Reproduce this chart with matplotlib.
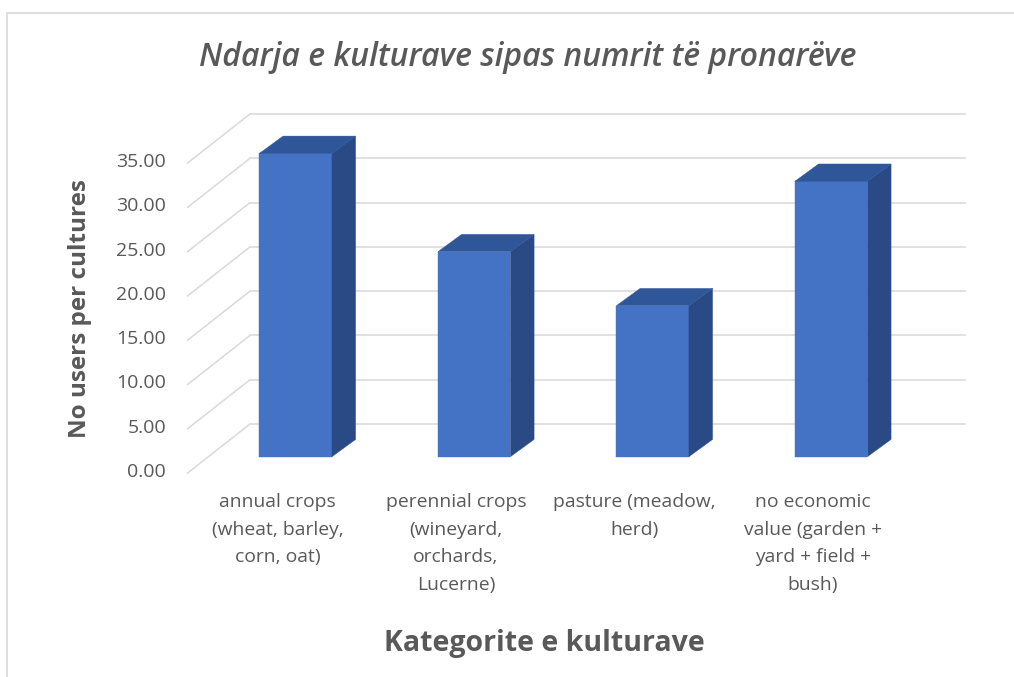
import numpy as np
import matplotlib
matplotlib.use("Agg")
import matplotlib.pyplot as plt
from matplotlib.patches import Polygon, Rectangle

plt.rcParams['font.family'] = ['Open Sans', 'DejaVu Sans']

# data
categories = ["annual crops\n(wheat, barley,\ncorn, oat)",
              "perennial crops\n(wineyard,\norchards,\nLucerne)",
              "pasture (meadow,\nherd)",
              "no economic\nvalue (garden +\nyard + field +\nbush)"]
values = [34.25, 23.15, 17.05, 31.1]
yticks = [0, 5, 10, 15, 20, 25, 30, 35]
ytick_labels = ["%.2f" % t for t in yticks]

title = "Ndarja e kulturave sipas numrit të pronarëve"
xlabel = "Kategorite e kulturave"
ylabel = "No users per cultures"

# oblique "3D" look: depth vector in data units
DX, DY = 0.353, 5.19
front = 0.29      # where the bar front sits in the depth
thick = 0.375     # bar depth
width = 0.406
floor_l, floor_r = -0.507, 3.499

grid_c = "#d9d9d9"
txt_c = "#595959"
c_front, c_top, c_side = "#4472C4", "#30569A", "#2A4A85"

W, H = 1014, 677
fig = plt.figure(figsize=(W / 100, H / 100), dpi=100)
ax = fig.add_axes([180 / W, (H - 485) / H, 795 / W, 385 / H])
ax.set_xlim(-0.546, 3.908)
ax.set_ylim(-1.694, 41.775)

# walls: left diagonals + back horizontal lines
for t in yticks:
    ax.plot([floor_l, floor_l + DX], [t - 0.4, t + DY], color=grid_c, lw=1.1, zorder=1,
            solid_capstyle='butt')
    ax.plot([floor_l + DX, floor_r + DX], [t + DY, t + DY], color=grid_c, lw=1.1, zorder=1)

x = np.arange(len(values))
xf = x + front * DX
yb = front * DY
ax.bar(xf, values, width=width, bottom=yb, color=c_front, edgecolor=c_front, lw=0.3, zorder=3)

for xi, v in zip(xf, values):
    l, r = xi - width / 2, xi + width / 2
    top = yb + v
    ddx, ddy = thick * DX, thick * DY
    side = Polygon([(r, yb), (r + ddx, yb + ddy), (r + ddx, top + ddy), (r, top)],
                   closed=True, fc=c_side, ec=c_side, lw=0.3, zorder=3)
    lid = Polygon([(l, top), (l + ddx, top + ddy), (r + ddx, top + ddy), (r, top)],
                  closed=True, fc=c_top, ec=c_top, lw=0.3, zorder=3)
    ax.add_patch(side)
    ax.add_patch(lid)

for s in ax.spines.values():
    s.set_visible(False)

ax.set_yticks(yticks)
ax.set_yticklabels(ytick_labels)
ax.set_xticks(x)
ax.set_xticklabels(categories, linespacing=1.68)
ax.tick_params(axis='y', length=0, pad=10, labelsize=14, labelcolor=txt_c)
ax.tick_params(axis='x', length=0, pad=6, labelsize=13.9, labelcolor=txt_c)

ax.set_ylabel(ylabel, fontsize=17.5, fontweight='bold', color=txt_c)
ax.yaxis.set_label_coords(-0.1107, 0.459)
ax.set_xlabel(xlabel, fontsize=20.5, fontweight='bold', color=txt_c)
ax.xaxis.set_label_coords(0.458, -0.374)

fig.text(528 / W, 1 - 57 / H, title, fontsize=23, style='italic', fontweight='semibold',
         color=txt_c, ha='center', va='center')

fig.patches.append(Rectangle((7 / W, -0.01), 1.02, 1 - 13 / H + 0.01, transform=fig.transFigure,
                             fill=False, ec=grid_c, lw=1.2))

fig.savefig("out.png", dpi=100)
